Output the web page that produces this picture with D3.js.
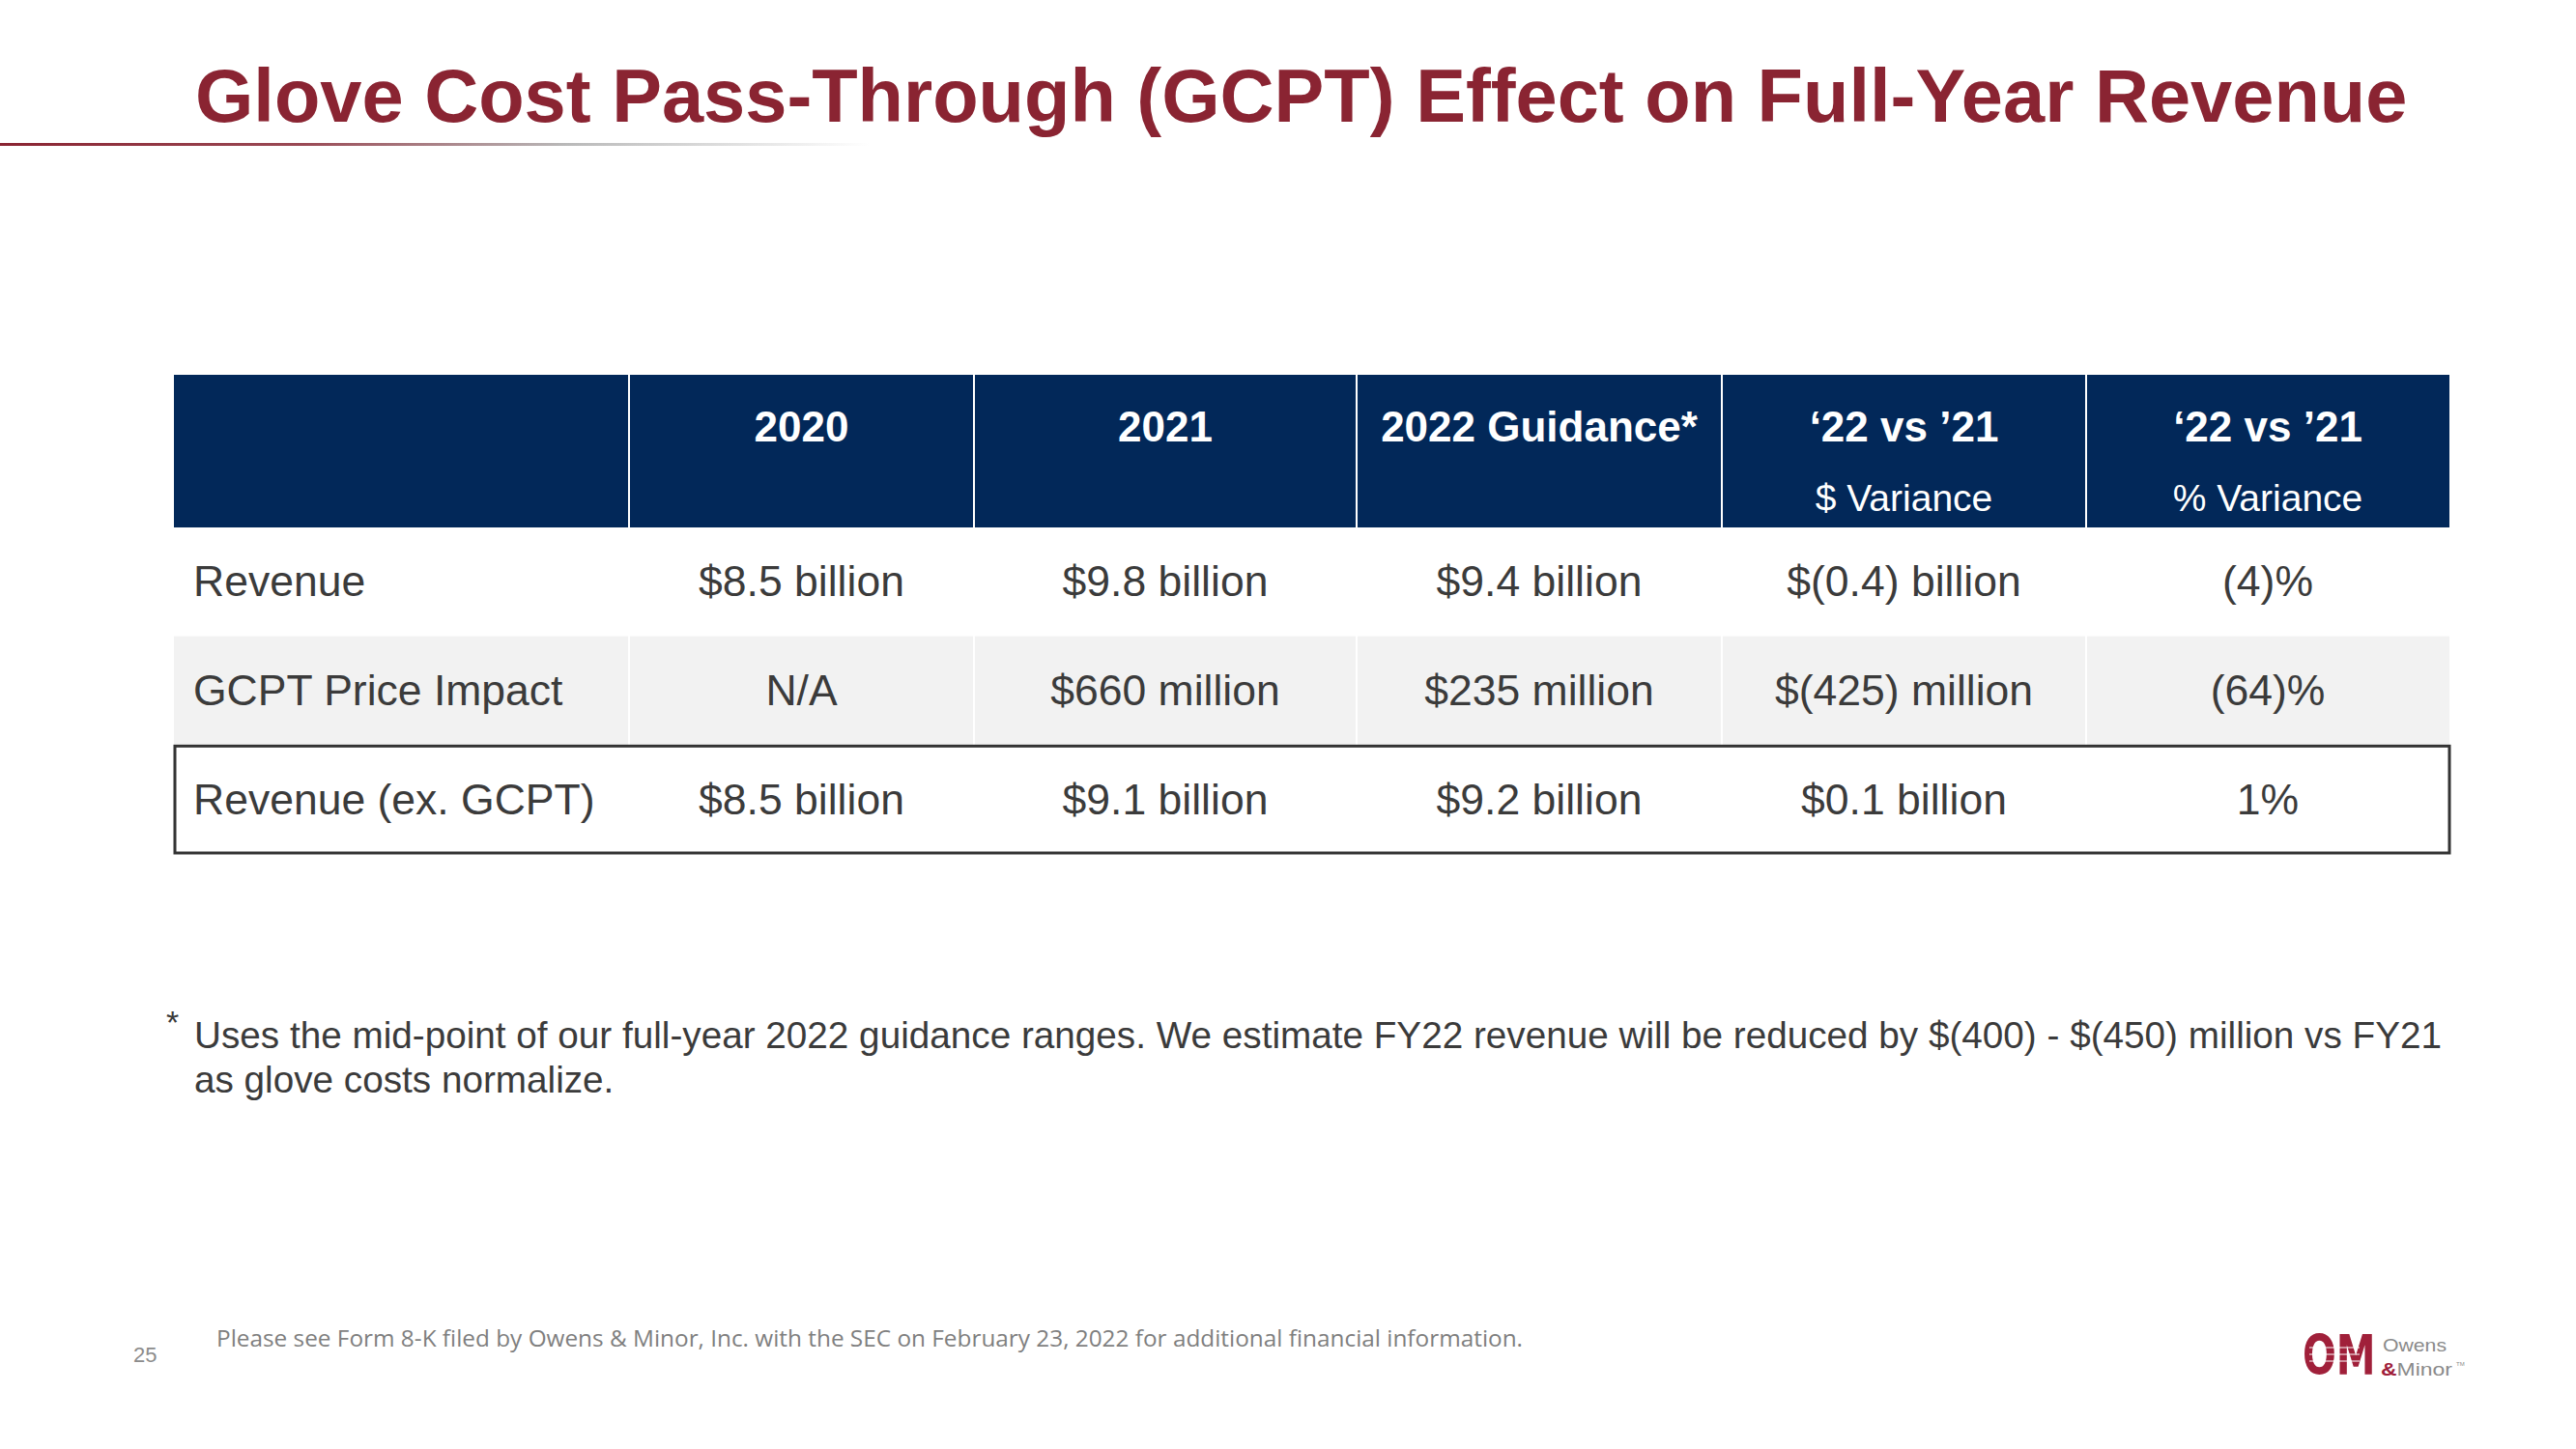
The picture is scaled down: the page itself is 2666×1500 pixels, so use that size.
<!DOCTYPE html>
<html><head><meta charset="utf-8">
<script src="https://cdn.jsdelivr.net/npm/d3@7"></script>
<style>html,body{margin:0;padding:0;background:#fff;}svg{display:block;}</style>
</head><body>
<script>
// ---------- data ----------
const titleText = "Glove Cost Pass-Through (GCPT) Effect on Full-Year Revenue";
const columnHeaders = ["", "2020", "2021", "2022 Guidance*", "\u201822 vs \u201921", "\u201822 vs \u201921"];
const columnSubHeaders = ["", "", "", "", "$ Variance", "% Variance"];
const rowLabels = ["Revenue", "GCPT Price Impact", "Revenue (ex. GCPT)"];
const revenueRow = ["$8.5 billion", "$9.8 billion", "$9.4 billion", "$(0.4) billion", "(4)%"];
const gcptRow = ["N/A", "$660 million", "$235 million", "$(425) million", "(64)%"];
const exGcptRow = ["$8.5 billion", "$9.1 billion", "$9.2 billion", "$0.1 billion", "1%"];
const footnoteLines = [
  "Uses the mid-point of our full-year 2022 guidance ranges. We estimate FY22 revenue will be reduced by $(400) - $(450) million vs FY21",
  "as glove costs normalize."
];
const sourceNote = "Please see Form 8-K filed by Owens & Minor, Inc. with the SEC on February 23, 2022 for additional financial information.";
const pageNumber = "25";

// ---------- layout ----------
const W = 2666, H = 1500;
const colEdges = [180, 651, 1008, 1404, 1782, 2159, 2535];
const headerTop = 388, headerBottom = 546, tableBottom = 884;
const navy = "#022859", maroon = "#8a2432", textCol = "#3b3b3b";

const svg = d3.select("body").append("svg").attr("width", W).attr("height", H)
  .style("font-family", "'Liberation Sans', Arial, sans-serif");

// title
svg.append("text").attr("x", 202).attr("y", 126)
  .attr("font-size", 77.6).attr("font-weight", "bold").attr("fill", maroon)
  .text(titleText);

const grad = svg.append("defs").append("linearGradient").attr("id", "tl")
  .attr("x1", "0%").attr("x2", "100%");
grad.append("stop").attr("offset", "0%").attr("stop-color", "#8a2432");
grad.append("stop").attr("offset", "35%").attr("stop-color", "#9a4a55");
grad.append("stop").attr("offset", "65%").attr("stop-color", "#b9b9b9");
grad.append("stop").attr("offset", "100%").attr("stop-color", "#ffffff");
svg.append("rect").attr("x", 0).attr("y", 148).attr("width", 900).attr("height", 3).attr("fill", "url(#tl)");

// scales
const rowScale = d3.scaleBand().domain(rowLabels).range([headerBottom, tableBottom]).padding(0);
const colIndex = d3.range(columnHeaders.length);
const colX = i => colEdges[i];
const colW = i => colEdges[i + 1] - colEdges[i];
const colC = i => (colEdges[i] + colEdges[i + 1]) / 2;

// header
svg.append("rect").attr("x", colEdges[0]).attr("y", headerTop)
  .attr("width", colEdges[6] - colEdges[0]).attr("height", headerBottom - headerTop).attr("fill", navy);
svg.selectAll(".hdiv").data(colIndex.slice(1)).join("line")
  .attr("x1", i => colX(i)).attr("x2", i => colX(i))
  .attr("y1", headerTop).attr("y2", headerBottom).attr("stroke", "#fff").attr("stroke-width", 2);
svg.selectAll(".htxt").data(colIndex).join("text")
  .attr("x", i => colC(i)).attr("y", 457).attr("text-anchor", "middle")
  .attr("font-size", 44).attr("font-weight", "bold").attr("fill", "#fff")
  .text(i => columnHeaders[i]);
svg.selectAll(".hsub").data(colIndex).join("text")
  .attr("x", i => colC(i)).attr("y", 529).attr("text-anchor", "middle")
  .attr("font-size", 39).attr("fill", "#fff")
  .text(i => columnSubHeaders[i]);

// body rows
const rows = [revenueRow, gcptRow, exGcptRow];
const rowFill = ["#ffffff", "#f2f2f2", "#ffffff"];
rows.forEach((vals, r) => {
  const y0 = rowScale(rowLabels[r]), h = rowScale.bandwidth();
  const g = svg.append("g");
  g.selectAll("rect").data(colIndex).join("rect")
    .attr("x", i => colX(i) + (i > 0 ? 1 : 0)).attr("y", y0)
    .attr("width", i => colW(i) - (i > 0 ? 1 : 0) - (i < 5 ? 1 : 0)).attr("height", h)
    .attr("fill", rowFill[r]);
  g.selectAll("text").data(colIndex).join("text")
    .attr("x", i => i === 0 ? colX(0) + 20 : colC(i))
    .attr("y", y0 + h / 2 + 15)
    .attr("text-anchor", i => i === 0 ? "start" : "middle")
    .attr("font-size", 44.5).attr("fill", textCol)
    .text(i => i === 0 ? rowLabels[r] : vals[i - 1]);
});
// border around last row
const lastY = rowScale(rowLabels[2]);
svg.append("rect").attr("x", colEdges[0] + 1).attr("y", lastY + 1)
  .attr("width", colEdges[6] - colEdges[0] - 1).attr("height", rowScale.bandwidth() - 2)
  .attr("fill", "none").attr("stroke", "#333").attr("stroke-width", 3);

// footnote
svg.append("text").attr("x", 172).attr("y", 1070).attr("font-size", 34).attr("fill", textCol).text("*");
svg.selectAll(".fn").data(footnoteLines).join("text")
  .attr("x", 201).attr("y", (d, i) => 1085 + i * 46)
  .attr("font-size", 38.7).attr("fill", textCol)
  .text(d => d);

// source note
svg.append("text").attr("x", 224).attr("y", 1394)
  .attr("font-family", "'Open Sans', sans-serif").attr("font-size", 23).attr("fill", "#7f7f7f")
  .attr("textLength", 1352).attr("lengthAdjust", "spacingAndGlyphs")
  .text(sourceNote);
svg.append("text").attr("x", 138).attr("y", 1410)
  .attr("font-size", 22).attr("fill", "#8c8c8c").text(pageNumber);

// logo
const logo = svg.append("g");
logo.append("text").attr("transform", "translate(2383,1423) scale(1,1.4)")
  .attr("font-family", "'DejaVu Sans', sans-serif")
  .attr("font-size", 41).attr("font-weight", "bold").attr("fill", "#a0203a")
  .text("OM");
[1395, 1402, 1409].forEach(y => logo.append("line")
  .attr("x1", 2390).attr("x2", 2442).attr("y1", y).attr("y2", y)
  .attr("stroke", "#fff").attr("stroke-width", 1.2));
logo.append("text").attr("x", 2466).attr("y", 1399).attr("font-size", 19).attr("fill", "#8a8a8a")
  .attr("textLength", 66).attr("lengthAdjust", "spacingAndGlyphs").text("Owens");
const m = logo.append("text").attr("x", 2464).attr("y", 1424).attr("font-size", 19).attr("fill", "#8a8a8a")
  .attr("textLength", 74).attr("lengthAdjust", "spacingAndGlyphs");
m.append("tspan").attr("fill", "#a0203a").attr("font-weight", "bold").text("&");
m.append("tspan").text("Minor");
logo.append("text").attr("x", 2542).attr("y", 1414).attr("font-size", 6).attr("fill", "#8a8a8a").text("TM");
</script>
</body></html>
